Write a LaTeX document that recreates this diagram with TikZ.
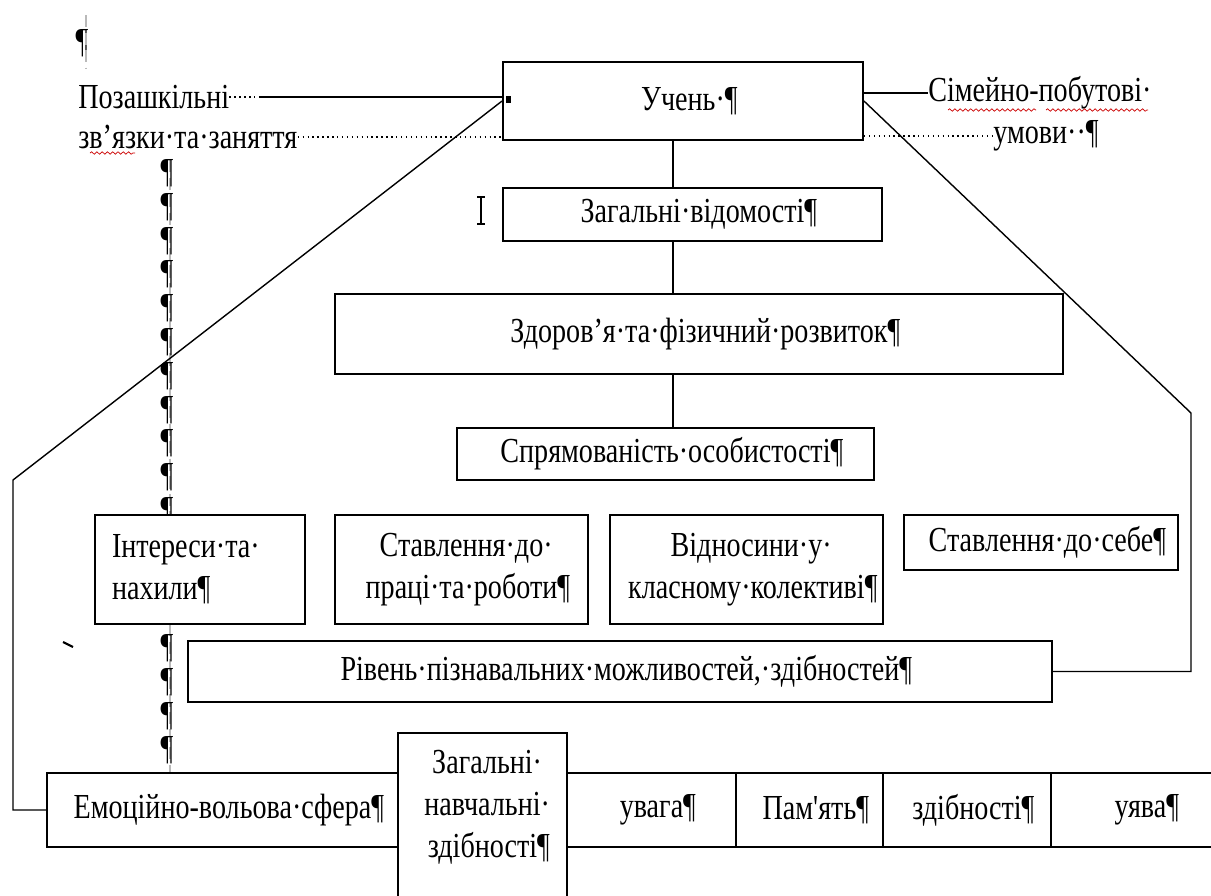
\documentclass[tikz,border=0pt]{standalone}
\usepackage{fontspec}
\setmainfont{Liberation Serif}[FakeStretch=0.8, Ligatures=TeXOff]
\usetikzlibrary{decorations.pathmorphing}
\newcommand{\pil}{\rlap{¶}}
\newcommand{\tdot}{\rlap{·}}

\begin{document}
\begin{tikzpicture}[
  x=0.02cm, y=-0.02cm,
  font=\fontsize{20pt}{24pt}\selectfont,
  box/.style={draw, line width=1.1pt, fill=white, inner sep=0pt, align=center},
  lbl/.style={inner sep=0pt, anchor=west},
  pm/.style={inner sep=0pt},
  conn/.style={line width=0.8pt},
  dots/.style={line width=0.8pt, dotted},
  fmark/.style={gray!55, line width=1.6pt, dash pattern=on 7pt off 3pt},
  spell/.style={red!80!black, line width=0.4pt, decorate, decoration={snake, amplitude=0.7pt, segment length=3pt}}]
\useasboundingbox (0,0) rectangle (1211,896);
\fill[white] (0,0) rectangle (1211,896);
\clip (0,0) rectangle (1211,896);
% formatting marks down the left side
\node[pm] (p0) at (82,43) {¶};
\draw[fmark] (86,15) -- (86,68);
\draw[fmark] (170,160) -- (170,515);
\draw[fmark] (170,624) -- (170,773);
\foreach \y in {173,207,241,274,308,342,376,410,443,477,511,648,682,716,750}
  \node[pm] at (167,\y) {¶};
% main column
\node[box, minimum width=7.2cm, minimum height=1.56cm] (ucen) at (683,101) {Учень·\pil};
\node[box, minimum width=7.58cm, minimum height=1.06cm] (zag) at (692.5,214.5) {Загальні·відомості\pil};
\node[box, minimum width=14.56cm, minimum height=1.6cm] (zdor) at (699,334) {Здоров’я·та·фізичний·розвиток\pil};
\node[box, minimum width=8.34cm, minimum height=1.04cm] (spr) at (665.5,454) {Спрямованість·особистості\pil};
\node[box, minimum width=4.2cm, minimum height=2.18cm, text width=3.52cm, align=left] (inter) at (200,569.5) {Інтереси·та\tdot\\нахили\pil};
\node[box, minimum width=5.06cm, minimum height=2.18cm] (prac) at (461.5,569.5) {Ставлення·до\tdot\\праці·та·роботи\pil};
\node[box, minimum width=5.46cm, minimum height=2.18cm] (vidn) at (746.5,569.5) {Відносини·у\tdot\\класному·колективі\pil};
\node[box, minimum width=5.48cm, minimum height=1.1cm] (sebe) at (1041,542.5) {Ставлення·до·себе\pil};
\node[box, minimum width=17.28cm, minimum height=1.22cm] (riv) at (620,671.5) {Рівень·пізнавальних·можливостей,·здібностей\pil};
% bottom strip
\node[box, minimum width=7.02cm, minimum height=1.48cm] (emoc) at (222.5,810) {Емоційно-вольова·сфера\pil};
\node[box, minimum width=3.38cm, minimum height=1.48cm] (uvaga) at (651.5,810) {увага\pil};
\node[box, minimum width=2.94cm, minimum height=1.48cm] (pam) at (809.5,810) {Пам'ять\pil};
\node[box, minimum width=3.36cm, minimum height=1.48cm] (zdib) at (967,810) {здібності\pil};
\node[box, minimum width=3.58cm, minimum height=1.48cm] (uyava) at (1140.5,810) {уява\pil};
\node[box, minimum width=3.38cm, minimum height=3.94cm] (navch) at (482.5,831.5) {};
\node[pm, align=center] (navchtxt) at (482.5,807) {Загальні\tdot\\навчальні\tdot\\здібності\pil};
% side labels
\node[lbl] (poza) at (78,97) {Позашкільні};
\node[lbl] (zvy) at (78,137) {зв’язки·та·заняття};
\node[lbl] (sim) at (928,93) {Сімейно-побутові·};
\node[lbl] (umovy) at (993,136) {умови··¶};
\coordinate (solidstart) at (260,97);
\coordinate (lcorner) at (13,480);
\coordinate (rcorner) at (1191,413);
\coordinate (axis) at (673,0);
% connectors
\draw[conn] (axis |- ucen.south) -- (axis |- zag.north);
\draw[conn] (axis |- zag.south) -- (axis |- zdor.north);
\draw[conn] (axis |- zdor.south) -- (axis |- spr.north);
\draw[conn] (ucen.west) -- (lcorner) |- (emoc.west);
\draw[conn] (ucen.east) -- (rcorner) |- (riv.east);
\draw[dots] (poza.east) -- (poza.east -| ucen.west);
\draw[conn] (solidstart) -- (solidstart -| ucen.west);
\draw[dots] (zvy.east) -- (zvy.east -| ucen.west);
\draw[conn] (ucen.east |- sim.west) -- (sim.west);
\draw[dots] (ucen.east |- umovy.west) -- (umovy.west);
% spelling marks, cursor and stray bits
\draw[spell] (90,153) -- (135,153);
\draw[spell] (948,110) -- (1036,110);
\draw[spell] (1046,110) -- (1148,110);
\fill (506,96) rectangle (511,103);
\draw[line width=0.6pt] (477,197) -- (485,197) (481,197) -- (481,224) (477,224) -- (485,224);
\draw[line width=1.2pt] (63,642) -- (73,647);
\end{tikzpicture}
\end{document}
